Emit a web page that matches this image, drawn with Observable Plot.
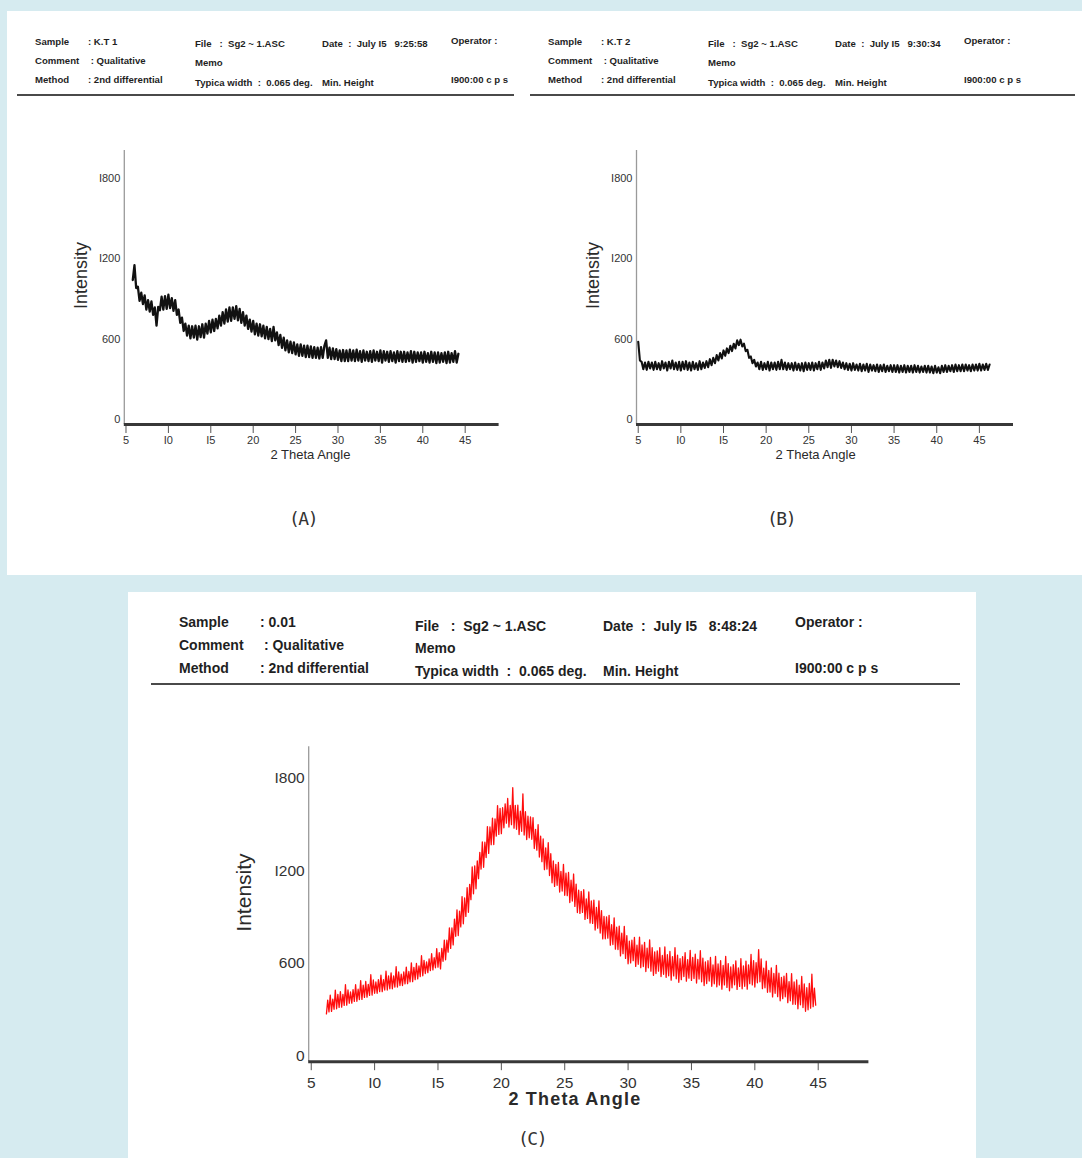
<!DOCTYPE html>
<html><head><meta charset="utf-8">
<script src="https://cdn.jsdelivr.net/npm/d3@7"></script>
<script src="https://cdn.jsdelivr.net/npm/@observablehq/plot@0.6"></script>
<style>
html,body{margin:0;padding:0;background:#d6ebf0;}
#page{position:relative;width:1082px;height:1158px;background:#d6ebf0;overflow:hidden;font-family:"Liberation Sans",Arial,sans-serif;}
.panel{position:absolute;background:#fff;}
.t{position:absolute;white-space:pre;font-weight:bold;color:#1f1f1f;transform:translateY(-50%);line-height:1.15;}
.rule{position:absolute;height:2px;background:#4a4a4a;}
.cap{position:absolute;transform:translate(-50%,-50%);font-family:"DejaVu Sans Mono",monospace;font-size:18px;letter-spacing:-1.5px;color:#333;}
.chart{position:absolute;}
.chart svg{overflow:visible;}
</style></head><body><div id="page"></div>
<script>
// ---------- data (intensities, cps) ----------
const stepAB = 0.2, stepC = 0.1;     // scan steps, degrees 2θ
const startA = 5.8, startB = 5.0, startC = 6.2;
const intensityA = [
1040,1150,980,990,885,945,860,925,820,890,
805,880,780,835,700,840,815,915,820,920,
825,930,830,905,810,890,780,820,720,760,
660,715,625,700,605,695,610,700,595,695,
615,710,610,715,640,735,650,745,660,750,
680,775,700,800,715,820,730,835,735,835,
750,845,740,825,720,800,700,775,675,745,
655,735,635,715,625,710,620,700,605,690,
600,675,585,690,590,650,555,630,535,610,
515,590,500,580,495,575,485,560,475,560,
475,550,465,550,465,545,460,540,460,535,
455,540,460,550,590,460,535,450,530,450,
525,445,515,435,518,435,515,435,520,440,
515,435,520,440,510,430,515,440,505,435,
510,430,515,440,505,435,515,425,510,440,
505,430,510,435,500,425,510,435,505,430,
505,430,500,435,510,425,505,430,500,435,
500,425,505,430,495,425,505,430,500,420,
500,425,495,430,500,420,505,425,495,430,
510,425,490];
const intensityB = [
580,440,430,375,425,370,430,380,425,370,
430,375,420,370,435,380,425,365,430,380,
440,375,425,370,430,365,430,375,435,370,
425,365,430,375,420,370,435,375,425,385,
435,390,450,405,460,420,480,440,495,455,
515,475,530,495,550,510,565,530,590,555,
595,545,565,510,520,460,470,420,445,395,
425,375,430,370,420,375,430,365,425,375,
425,370,430,375,445,375,425,370,420,375,
420,365,425,370,415,365,420,360,425,370,
420,370,425,365,420,375,430,370,425,380,
440,390,445,385,445,395,440,390,435,385,
425,375,420,370,415,365,420,370,410,365,
415,360,410,365,415,355,410,365,405,360,
410,355,405,360,410,355,400,360,405,355,
405,355,405,350,400,355,405,350,400,355,
400,350,405,355,400,350,395,355,400,350,
400,350,395,345,400,350,390,345,400,355,
405,355,400,360,405,355,410,360,405,360,
410,360,410,365,405,360,410,365,410,365,
415,365,410,370,415,370,410];
const intensityC = [
273,362,286,395,289,369,303,427,306,400,
315,418,317,400,328,462,330,428,342,415,
343,431,354,462,355,433,366,489,367,460,
380,483,382,465,393,527,395,493,407,480,
407,495,417,525,417,495,428,550,428,520,
436,539,436,519,447,579,447,545,457,530,
457,545,468,576,469,548,481,604,482,575,
495,600,500,585,515,650,520,620,535,610,
540,629,554,663,558,637,572,696,576,670,
565,697,614,752,624,751,673,830,698,830,
720,888,776,948,781,939,837,1034,857,1025,
905,1091,932,1113,1014,1226,1052,1233,1084,1265,
1150,1321,1212,1388,1224,1386,1287,1488,1314,1485,
1370,1543,1371,1538,1426,1624,1437,1605,1442,1610,
1480,1635,1510,1670,1485,1625,1500,1740,1477,1625,
1470,1626,1436,1587,1457,1700,1433,1584,1404,1555,
1415,1550,1405,1545,1345,1470,1335,1500,1290,1425,
1260,1407,1208,1350,1212,1383,1170,1312,1123,1265,
1100,1243,1107,1255,1063,1197,1070,1243,1042,1185,
1040,1190,995,1140,1005,1180,970,1115,930,1075,
925,1068,931,1078,886,1019,892,1064,862,1005,
860,1011,817,963,829,1006,797,943,759,905,
760,902,764,912,719,851,723,896,693,835,
690,842,649,797,664,841,633,781,598,745,
604,751,618,769,581,718,595,771,573,720,
580,737,548,700,572,753,550,702,523,675,
535,682,550,702,515,652,530,707,510,657,
520,678,492,645,519,702,501,654,478,631,
495,645,515,670,485,625,505,685,490,640,
502,660,473,626,499,683,481,634,457,610,
470,618,486,639,452,590,468,646,449,597,
460,619,433,587,461,646,445,599,423,577,
442,592,462,617,432,571,451,631,436,585,
452,615,433,591,469,658,461,619,447,605,
475,690,481,629,437,569,442,615,413,555,
415,572,383,535,407,588,385,537,358,510,
372,518,384,535,346,482,358,534,335,480,
335,493,306,459,332,516,314,467,290,443,
300,470,310,530,320,440,330];

const xTicks = [5,10,15,20,25,30,35,40,45];
const xTickLabels = ["5","I0","I5","20","25","30","35","40","45"];
const yTicks = [0,600,1200,1800];
const yTickLabels = ["0","600","I200","I800"];

const sampleNames = ["K.T 1","K.T 2","0.01"];
const runTimes = ["9:25:58","9:30:34","8:48:24"];
const panelCaptions = ["(A)","(B)","(C)"];
const xTitle = "2 Theta Angle";
const yTitle = "Intensity";

// ---------- helpers ----------
const page = document.getElementById("page");
function el(cls, css, text){
  const d = document.createElement("div");
  d.className = cls;
  Object.assign(d.style, css);
  if (text != null) d.textContent = text;
  page.appendChild(d);
  return d;
}
const toRows = (start, step, vals) => vals.map((v,i)=>({angle: +(start + i*step).toFixed(2), intensity: v}));

// white panels
el("panel",{left:"7px",top:"11px",width:"1075px",height:"564px"});
el("panel",{left:"128px",top:"592px",width:"848px",height:"566px"});

// headers
function header(k, ox, cols, rows, fs){
  const [cColon, cFile, cDate, cOp] = cols;
  const [r1, r2, r3, s1, s2, s3, o1, o2] = rows;
  const f = {fontSize: fs+"px"};
  const add = (txt,x,y)=>el("t",Object.assign({left:(ox+x)+"px",top:y+"px"},f),txt);
  add("Sample",0,r1); add(": "+sampleNames[k],cColon,r1);
  add("Comment",0,r2); add(" : Qualitative",cColon,r2);
  add("Method",0,r3); add(": 2nd differential",cColon,r3);
  add("File   :  Sg2 ~ 1.ASC",cFile,s1);
  add("Memo",cFile,s2);
  add("Typica width  :  0.065 deg.",cFile,s3);
  add("Date  :  July I5   "+runTimes[k],cDate,s1);
  add("Min. Height",cDate,s3);
  add("Operator :",cOp,o1);
  add("I900:00 c p s",cOp,o2);
}
header(0, 35, [53,160,287,416], [42,61,80,44,63,83,41,80], 9.6);
header(1, 548, [53,160,287,416], [42,61,80,44,63,83,41,80], 9.6);
header(2, 179, [81,236,424,616], [622,645,668,626,648,671,622,668], 14);
el("rule",{left:"17px",top:"94px",width:"497px"});
el("rule",{left:"530px",top:"94px",width:"545px"});
el("rule",{left:"151px",top:"683px",width:"809px"});

// captions
el("cap",{left:"303px",top:"518px"},panelCaptions[0]);
el("cap",{left:"781px",top:"518px"},panelCaptions[1]);
el("cap",{left:"532px",top:"1138px"},panelCaptions[2]);

// ---------- charts ----------
const xFmt = d => xTickLabels[xTicks.indexOf(d)];
const yFmt = d => yTickLabels[yTicks.indexOf(d)];

function xrd(rows, o){
  const chart = Plot.plot({
    width: o.width, height: o.height,
    marginLeft: o.ml, marginRight: o.mr, marginTop: o.mt, marginBottom: o.mb,
    x: {domain: [4.8, 49]},
    y: {domain: [-37, 2005]},
    style: {background: "transparent", color: "#333", fontFamily: "'Liberation Sans', Arial, sans-serif", overflow: "visible"},
    marks: [
      Plot.ruleX([4.8], {y1: -37, y2: 2005, stroke: "#9a9a9a", strokeWidth: 1.3}),
      Plot.line(rows, {x: "angle", y: "intensity", stroke: o.color, strokeWidth: o.sw, strokeOpacity: o.op}),
      Plot.axisX({ticks: xTicks, tickFormat: xFmt, tickSize: o.ts, tickPadding: o.tp, fontSize: o.fs, label: null, stroke: "#555"}),
      Plot.axisY({ticks: yTicks, tickFormat: yFmt, tickSize: 0, tickPadding: 4, fontSize: o.fs, label: null}),
      Plot.ruleY([-37], {stroke: "#383838", strokeWidth: 3}),
      Plot.text([xTitle], {x: o.xtX, y: -37, dy: o.xtDy, text: d => d, fontSize: o.xfs, fontWeight: o.xfw, fill: "#2a2a2a"}),
      Plot.text([yTitle], {x: 4.8, y: o.ytY, dx: o.ytDx, text: d => d, rotate: -90, fontSize: o.yfs, fill: "#2a2a2a"})
    ]
  });
  chart.querySelectorAll("text").forEach(t => { if (t.textContent === xTitle) t.style.letterSpacing = o.xls; });
  const wrap = el("chart",{left:o.left+"px",top:o.top+"px"});
  wrap.appendChild(chart);
}

xrd(toRows(startA, stepAB, intensityA), {left:60, top:140, width:460, height:330, ml:63.8, mr:21.4, mt:10, mb:46,
  color:"#111", sw:2.3, op:1, ts:9, tp:3, fs:11, xtX:26.75, xtDy:30, xfs:13, xfw:"normal", xls:"0px", ytY:1073, ytDx:-43, yfs:18});
xrd(toRows(startB, stepAB, intensityB), {left:572, top:140, width:460, height:330, ml:64, mr:19, mt:10, mb:46,
  color:"#111", sw:2.1, op:1, ts:9, tp:3, fs:11, xtX:25.8, xtDy:30, xfs:13, xfw:"normal", xls:"0px", ytY:1073, ytDx:-43, yfs:18});
xrd(toRows(startC, stepC, intensityC), {left:220, top:736, width:670, height:390, ml:88.2, mr:21.6, mt:10.3, mb:64.8,
  color:"#f00", sw:1.3, op:0.95, ts:9, tp:6, fs:15.5, xtX:25.8, xtDy:38, xfs:18, xfw:"bold", xls:"1.2px", ytY:1060, ytDx:-64, yfs:21});
</script></body></html>
